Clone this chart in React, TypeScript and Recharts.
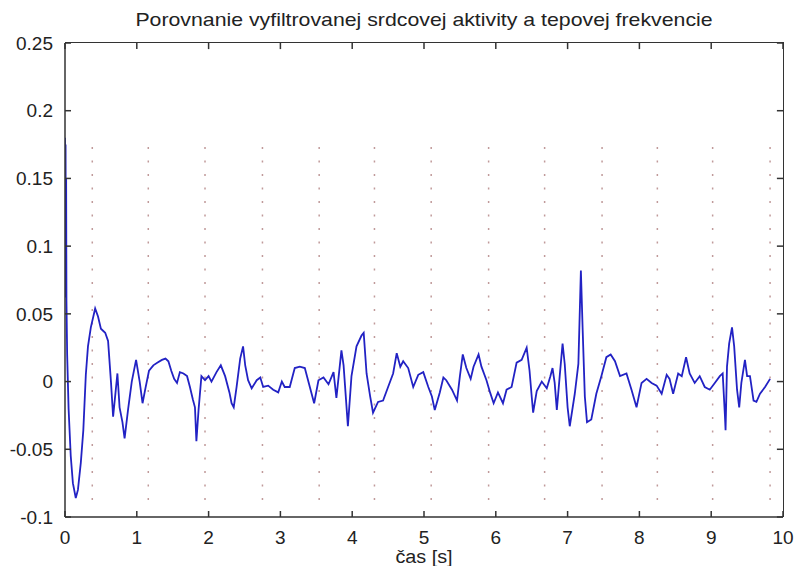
import React from 'react'
import { LineChart, Line, XAxis, YAxis, ReferenceLine } from 'recharts'

// time axis (s) and filtered heart activity samples
const time = [
  0.0, 0.004, 0.008, 0.012, 0.016, 0.02, 0.03, 0.05, 0.08, 0.11, 0.15, 0.18, 0.22, 0.255, 0.29, 0.32, 0.36, 0.42,
  0.46, 0.5, 0.56, 0.6, 0.64, 0.67, 0.7, 0.73, 0.76, 0.8, 0.83, 0.88, 0.93, 0.99, 1.04, 1.08, 1.12, 1.17, 1.23,
  1.29, 1.35, 1.4, 1.44, 1.48, 1.52, 1.56, 1.6, 1.65, 1.7, 1.74, 1.78, 1.81, 1.83, 1.86, 1.9, 1.95, 2.0, 2.04,
  2.11, 2.17, 2.23, 2.29, 2.32, 2.35, 2.39, 2.44, 2.48, 2.51, 2.55, 2.6, 2.67, 2.72, 2.76, 2.83, 2.9, 2.97, 3.02,
  3.06, 3.13, 3.2, 3.27, 3.34, 3.41, 3.47, 3.53, 3.6, 3.67, 3.74, 3.78, 3.85, 3.88, 3.94, 3.99, 4.06, 4.13, 4.16,
  4.2, 4.25, 4.29, 4.36, 4.43, 4.5, 4.57, 4.62, 4.67, 4.71, 4.78, 4.85, 4.92, 4.99, 5.06, 5.11, 5.15, 5.22, 5.27,
  5.31, 5.39, 5.46, 5.5, 5.54, 5.59, 5.65, 5.69, 5.76, 5.8, 5.87, 5.92, 5.97, 6.03, 6.1, 6.15, 6.22, 6.29, 6.36,
  6.43, 6.47, 6.5, 6.52, 6.57, 6.64, 6.71, 6.76, 6.79, 6.82, 6.85, 6.89, 6.93, 6.96, 7.0, 7.03, 7.1, 7.15, 7.185,
  7.21, 7.24, 7.27, 7.33, 7.4, 7.47, 7.54, 7.6, 7.66, 7.73, 7.82, 7.89, 7.96, 8.03, 8.1, 8.17, 8.24, 8.31, 8.38,
  8.42, 8.47, 8.54, 8.59, 8.65, 8.7, 8.77, 8.84, 8.91, 8.98, 9.05, 9.12, 9.16, 9.19, 9.2, 9.22, 9.25, 9.29, 9.32,
  9.36, 9.39, 9.42, 9.47, 9.5, 9.54, 9.59, 9.63, 9.68, 9.75, 9.82,
]
const signal = [
  0.18, 0.062, 0.175, 0.065, 0.15, 0.06, 0.02, -0.02, -0.055, -0.075, -0.086, -0.08, -0.06, -0.036, 0.005, 0.026,
  0.04, 0.054, 0.048, 0.039, 0.036, 0.03, 0.0, -0.026, -0.01, 0.006, -0.019, -0.03, -0.042, -0.02, 0.0, 0.016,
  0.0, -0.016, -0.005, 0.008, 0.012, 0.014, 0.016, 0.017, 0.015, 0.008, 0.002, -0.001, 0.007, 0.006, 0.004,
  -0.004, -0.013, -0.019, -0.044, -0.021, 0.004, 0.001, 0.004, 0.0, 0.007, 0.012, 0.004, -0.008, -0.016, -0.019,
  -0.004, 0.017, 0.026, 0.012, 0.001, -0.005, 0.001, 0.003, -0.004, -0.003, -0.006, -0.008, 0.0, -0.004, -0.004,
  0.01, 0.011, 0.01, -0.004, -0.016, 0.001, 0.003, -0.002, 0.007, -0.012, 0.023, 0.012, -0.033, 0.004, 0.026,
  0.034, 0.036, 0.006, -0.011, -0.023, -0.015, -0.014, -0.004, 0.006, 0.021, 0.011, 0.015, 0.01, -0.004, 0.005,
  0.007, -0.004, -0.011, -0.021, -0.008, 0.003, 0.001, -0.006, -0.014, 0.004, 0.02, 0.01, 0.002, 0.011, 0.02,
  0.011, 0.001, -0.008, -0.016, -0.008, -0.016, -0.006, -0.004, 0.014, 0.016, 0.025, 0.008, -0.011, -0.023,
  -0.007, 0.0, -0.005, 0.004, 0.01, -0.001, -0.021, 0.004, 0.028, 0.013, -0.019, -0.033, -0.009, 0.013, 0.082,
  0.038, -0.011, -0.03, -0.028, -0.009, 0.004, 0.018, 0.02, 0.015, 0.004, 0.006, -0.006, -0.019, -0.001, 0.002,
  -0.001, -0.003, -0.009, 0.005, 0.002, -0.009, 0.006, 0.004, 0.018, 0.006, -0.001, 0.004, -0.004, -0.006,
  -0.001, 0.004, 0.006, -0.024, -0.036, 0.011, 0.028, 0.04, 0.026, -0.006, -0.019, -0.001, 0.016, 0.004, 0.004,
  -0.014, -0.015, -0.009, -0.004, 0.002,
]

// heart beat markers (red dotted verticals)
const beats = [0.38, 1.16, 1.95, 2.75, 3.54, 4.31, 5.1, 5.9, 6.68, 7.48, 8.25, 9.02, 9.82]
const beatTop = 0.175
const beatBottom = -0.0875

const xTicks = [0, 1, 2, 3, 4, 5, 6, 7, 8, 9, 10]
const yTicks = [-0.1, -0.05, 0, 0.05, 0.1, 0.15, 0.2, 0.25]
const xMax = 10
const yMax = 0.25
const topTickLen = 0.0045
const rightTickLen = 0.085

const title = 'Porovnanie vyfiltrovanej srdcovej aktivity a tepovej frekvencie'
const xLabel = 'čas [s]'

const data = time.map((t, i) => ({ t, v: signal[i] }))

const font = '"Liberation Sans", Arial, sans-serif'
const tickStyle = { fontSize: 19, fill: '#222', fontFamily: font }
const frame = { stroke: '#333', strokeWidth: 1.5 }

export default function App() {
  return (
    <div style={{ position: 'absolute', left: 0, top: 0, width: 798, height: 566, background: '#fff', fontFamily: font }}>
      <div
        style={{
          position: 'absolute',
          left: 65,
          width: 718,
          top: 10,
          textAlign: 'center',
          fontSize: 19,
          lineHeight: '20px',
          color: '#222',
          transform: 'scaleX(1.12)',
        }}
      >
        {title}
      </div>
      <LineChart width={798} height={566} data={data} margin={{ top: 43, right: 15, left: 0, bottom: 19 }}>
        <XAxis
          dataKey="t"
          type="number"
          domain={[0, 10]}
          ticks={xTicks}
          allowDataOverflow
          height={30}
          tickSize={-6}
          tickMargin={20}
          axisLine={frame}
          tickLine={frame}
          tick={tickStyle}
        />
        <YAxis
          type="number"
          domain={[-0.1, 0.25]}
          ticks={yTicks}
          allowDataOverflow
          width={65}
          tickSize={-6}
          tickMargin={18}
          axisLine={frame}
          tickLine={frame}
          tick={tickStyle}
        />
        {/* inward ticks on the top and right edges, as MATLAB draws them */}
        {xTicks.map((t) => (
          <ReferenceLine
            key={`tt${t}`}
            segment={[{ x: t, y: yMax - topTickLen }, { x: t, y: yMax }]}
            stroke="#333"
            strokeWidth={1.5}
            ifOverflow="visible"
          />
        ))}
        {yTicks.map((v) => (
          <ReferenceLine
            key={`rt${v}`}
            segment={[{ x: xMax - rightTickLen, y: v }, { x: xMax, y: v }]}
            stroke="#333"
            strokeWidth={1.5}
            ifOverflow="visible"
          />
        ))}
        {beats.map((b) => (
          <ReferenceLine
            key={b}
            segment={[{ x: b, y: beatBottom }, { x: b, y: beatTop }]}
            stroke="#c09a9a"
            strokeWidth={1.5}
            strokeDasharray="2 11.5"
          />
        ))}
        <Line
          type="linear"
          dataKey="v"
          stroke="#2222c4"
          strokeWidth={1.8}
          dot={false}
          isAnimationActive={false}
        />
      </LineChart>
      {/* top and right edges of the axes box */}
      <div
        style={{
          position: 'absolute',
          left: 65,
          top: 42,
          width: 719,
          height: 475,
          boxSizing: 'border-box',
          borderTop: '1.5px solid #333',
          borderRight: '1.5px solid #333',
          pointerEvents: 'none',
        }}
      />
      <div
        style={{
          position: 'absolute',
          left: 65,
          width: 718,
          top: 549,
          textAlign: 'center',
          fontSize: 18,
          lineHeight: '16px',
          color: '#222',
          transform: 'scaleX(1.1)',
        }}
      >
        {xLabel}
      </div>
    </div>
  )
}
